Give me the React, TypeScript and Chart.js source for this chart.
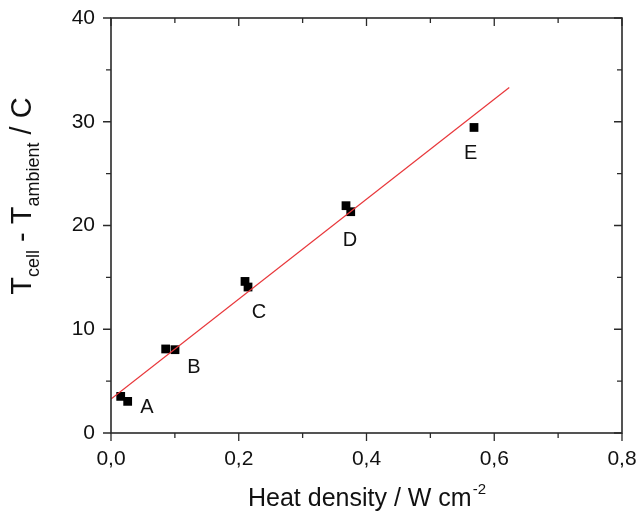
import React, { useEffect, useRef } from "react";
import { Chart, registerables } from "chart.js";

Chart.register(...registerables);

// Measured points (heat density W/cm², ΔT °C)
const heatDensity = [0.0152, 0.0261, 0.0856, 0.1002, 0.2098, 0.2145, 0.3679, 0.3753, 0.5683];
const deltaT = [3.53, 3.05, 8.1, 8.03, 14.61, 14.07, 21.91, 21.33, 29.45];

// Linear fit end points
const fitX = [0.0, 0.6235];
const fitY = [3.28, 33.3];

// Group labels and their positions (data coordinates)
const groupLabels = ["A", "B", "C", "D", "E"];
const groupLabelX = [0.0564, 0.13, 0.2317, 0.374, 0.563];
const groupLabelY = [2.44, 6.3, 11.6, 18.6, 26.9];

// Axis ticks
const xMajorTicks = [0, 0.2, 0.4, 0.6, 0.8];
const xMinorTicks = [0.1, 0.3, 0.5, 0.7];
const yMajorTicks = [0, 10, 20, 30, 40];
const yMinorTicks = [5, 15, 25, 35];

const FONT = "'Liberation Sans', Arial, sans-serif";

const decorPlugin = {
  id: "decor",
  afterDraw(chart: any) {
    const { ctx, chartArea } = chart;
    const xs = chart.scales.x;
    const ys = chart.scales.y;
    const { left, right, top, bottom } = chartArea;
    ctx.save();
    // frame
    ctx.strokeStyle = "#2a2a2a";
    ctx.lineWidth = 1.6;
    ctx.strokeRect(left, top, right - left, bottom - top);

    const major = 8;
    const minor = 5;
    ctx.lineWidth = 1.3;
    ctx.beginPath();
    const xt = (v: number, len: number) => {
      const px = xs.getPixelForValue(v);
      ctx.moveTo(px, bottom);
      ctx.lineTo(px, bottom + len);
      ctx.moveTo(px, top);
      ctx.lineTo(px, top + len);
    };
    const yt = (v: number, len: number) => {
      const py = ys.getPixelForValue(v);
      ctx.moveTo(left, py);
      ctx.lineTo(left - len, py);
      ctx.moveTo(right, py);
      ctx.lineTo(right - len, py);
    };
    xMajorTicks.forEach((v) => xt(v, major));
    xMinorTicks.forEach((v) => xt(v, minor));
    yMajorTicks.forEach((v) => yt(v, major));
    yMinorTicks.forEach((v) => yt(v, minor));
    ctx.stroke();

    // group labels
    ctx.fillStyle = "#111";
    ctx.font = `20px ${FONT}`;
    ctx.textAlign = "center";
    ctx.textBaseline = "middle";
    groupLabels.forEach((l, i) => {
      ctx.fillText(l, xs.getPixelForValue(groupLabelX[i]), ys.getPixelForValue(groupLabelY[i]));
    });

    // x title with superscript
    const cx = (left + right) / 2;
    const base = 506;
    const mainX = "Heat density / W cm";
    const sup = "-2";
    ctx.font = `25px ${FONT}`;
    const w1 = ctx.measureText(mainX).width;
    ctx.font = `15px ${FONT}`;
    const w2 = ctx.measureText(sup).width;
    const startX = cx - (w1 + w2) / 2;
    ctx.textAlign = "left";
    ctx.textBaseline = "alphabetic";
    ctx.font = `25px ${FONT}`;
    ctx.fillText(mainX, startX, base);
    ctx.font = `15px ${FONT}`;
    ctx.fillText(sup, startX + w1 + 1, base - 12);

    // y title rotated with subscripts
    const parts: [string, boolean][] = [
      ["T", false],
      ["cell", true],
      [" - T", false],
      ["ambient", true],
      [" / C", false],
    ];
    const MAIN = `29px ${FONT}`;
    const SUB = `18px ${FONT}`;
    const widths = parts.map(([t, s]) => {
      ctx.font = s ? SUB : MAIN;
      return ctx.measureText(t).width;
    });
    const total = widths.reduce((a, b) => a + b, 0);
    ctx.translate(31, 196);
    ctx.rotate(-Math.PI / 2);
    let pos = -total / 2;
    parts.forEach(([t, s], i) => {
      ctx.font = s ? SUB : MAIN;
      ctx.fillText(t, pos, s ? 8 : 0);
      pos += widths[i];
    });
    ctx.restore();
  },
};

export default function App() {
  const ref = useRef<HTMLCanvasElement>(null);
  useEffect(() => {
    if (!ref.current) return;
    const points = heatDensity.map((x, i) => ({ x, y: deltaT[i] }));
    const fit = fitX.map((x, i) => ({ x, y: fitY[i] }));
    const chart = new Chart(ref.current, {
      type: "scatter",
      data: {
        datasets: [
          {
            type: "line",
            data: fit,
            borderColor: "#e8363a",
            borderWidth: 1.2,
            pointRadius: 0,
            fill: false,
          } as any,
          {
            data: points,
            pointStyle: "rect",
            pointRadius: 6.2,
            backgroundColor: "#000",
            borderWidth: 0,
          },
        ],
      },
      options: {
        responsive: false,
        animation: false,
        layout: { padding: { top: 18, right: 15, left: 0, bottom: 0 } },
        plugins: { legend: { display: false }, tooltip: { enabled: false } },
        scales: {
          x: {
            type: "linear",
            min: 0,
            max: 0.8,
            grid: { display: false, drawTicks: false },
            border: { display: false },
            afterFit: (s: any) => {
              s.height = 82;
              s.paddingLeft = 0;
              s.paddingRight = 0;
            },
            ticks: {
              stepSize: 0.2,
              padding: 14,
              color: "#111",
              font: { family: FONT, size: 21 },
              callback: (v: any) => Number(v).toFixed(1).replace(".", ","),
            },
          },
          y: {
            type: "linear",
            min: 0,
            max: 40,
            grid: { display: false, drawTicks: false },
            border: { display: false },
            afterFit: (s: any) => {
              s.width = 111;
              s.paddingTop = 0;
              s.paddingBottom = 0;
            },
            ticks: {
              stepSize: 10,
              padding: 16,
              color: "#111",
              font: { family: FONT, size: 21 },
            },
          },
        },
      },
      plugins: [decorPlugin],
    });
    return () => chart.destroy();
  }, []);
  return (
    <div style={{ position: "fixed", left: 0, top: 0, width: 637, height: 515, background: "#fff" }}>
      <canvas ref={ref} width={637} height={515} />
    </div>
  );
}
